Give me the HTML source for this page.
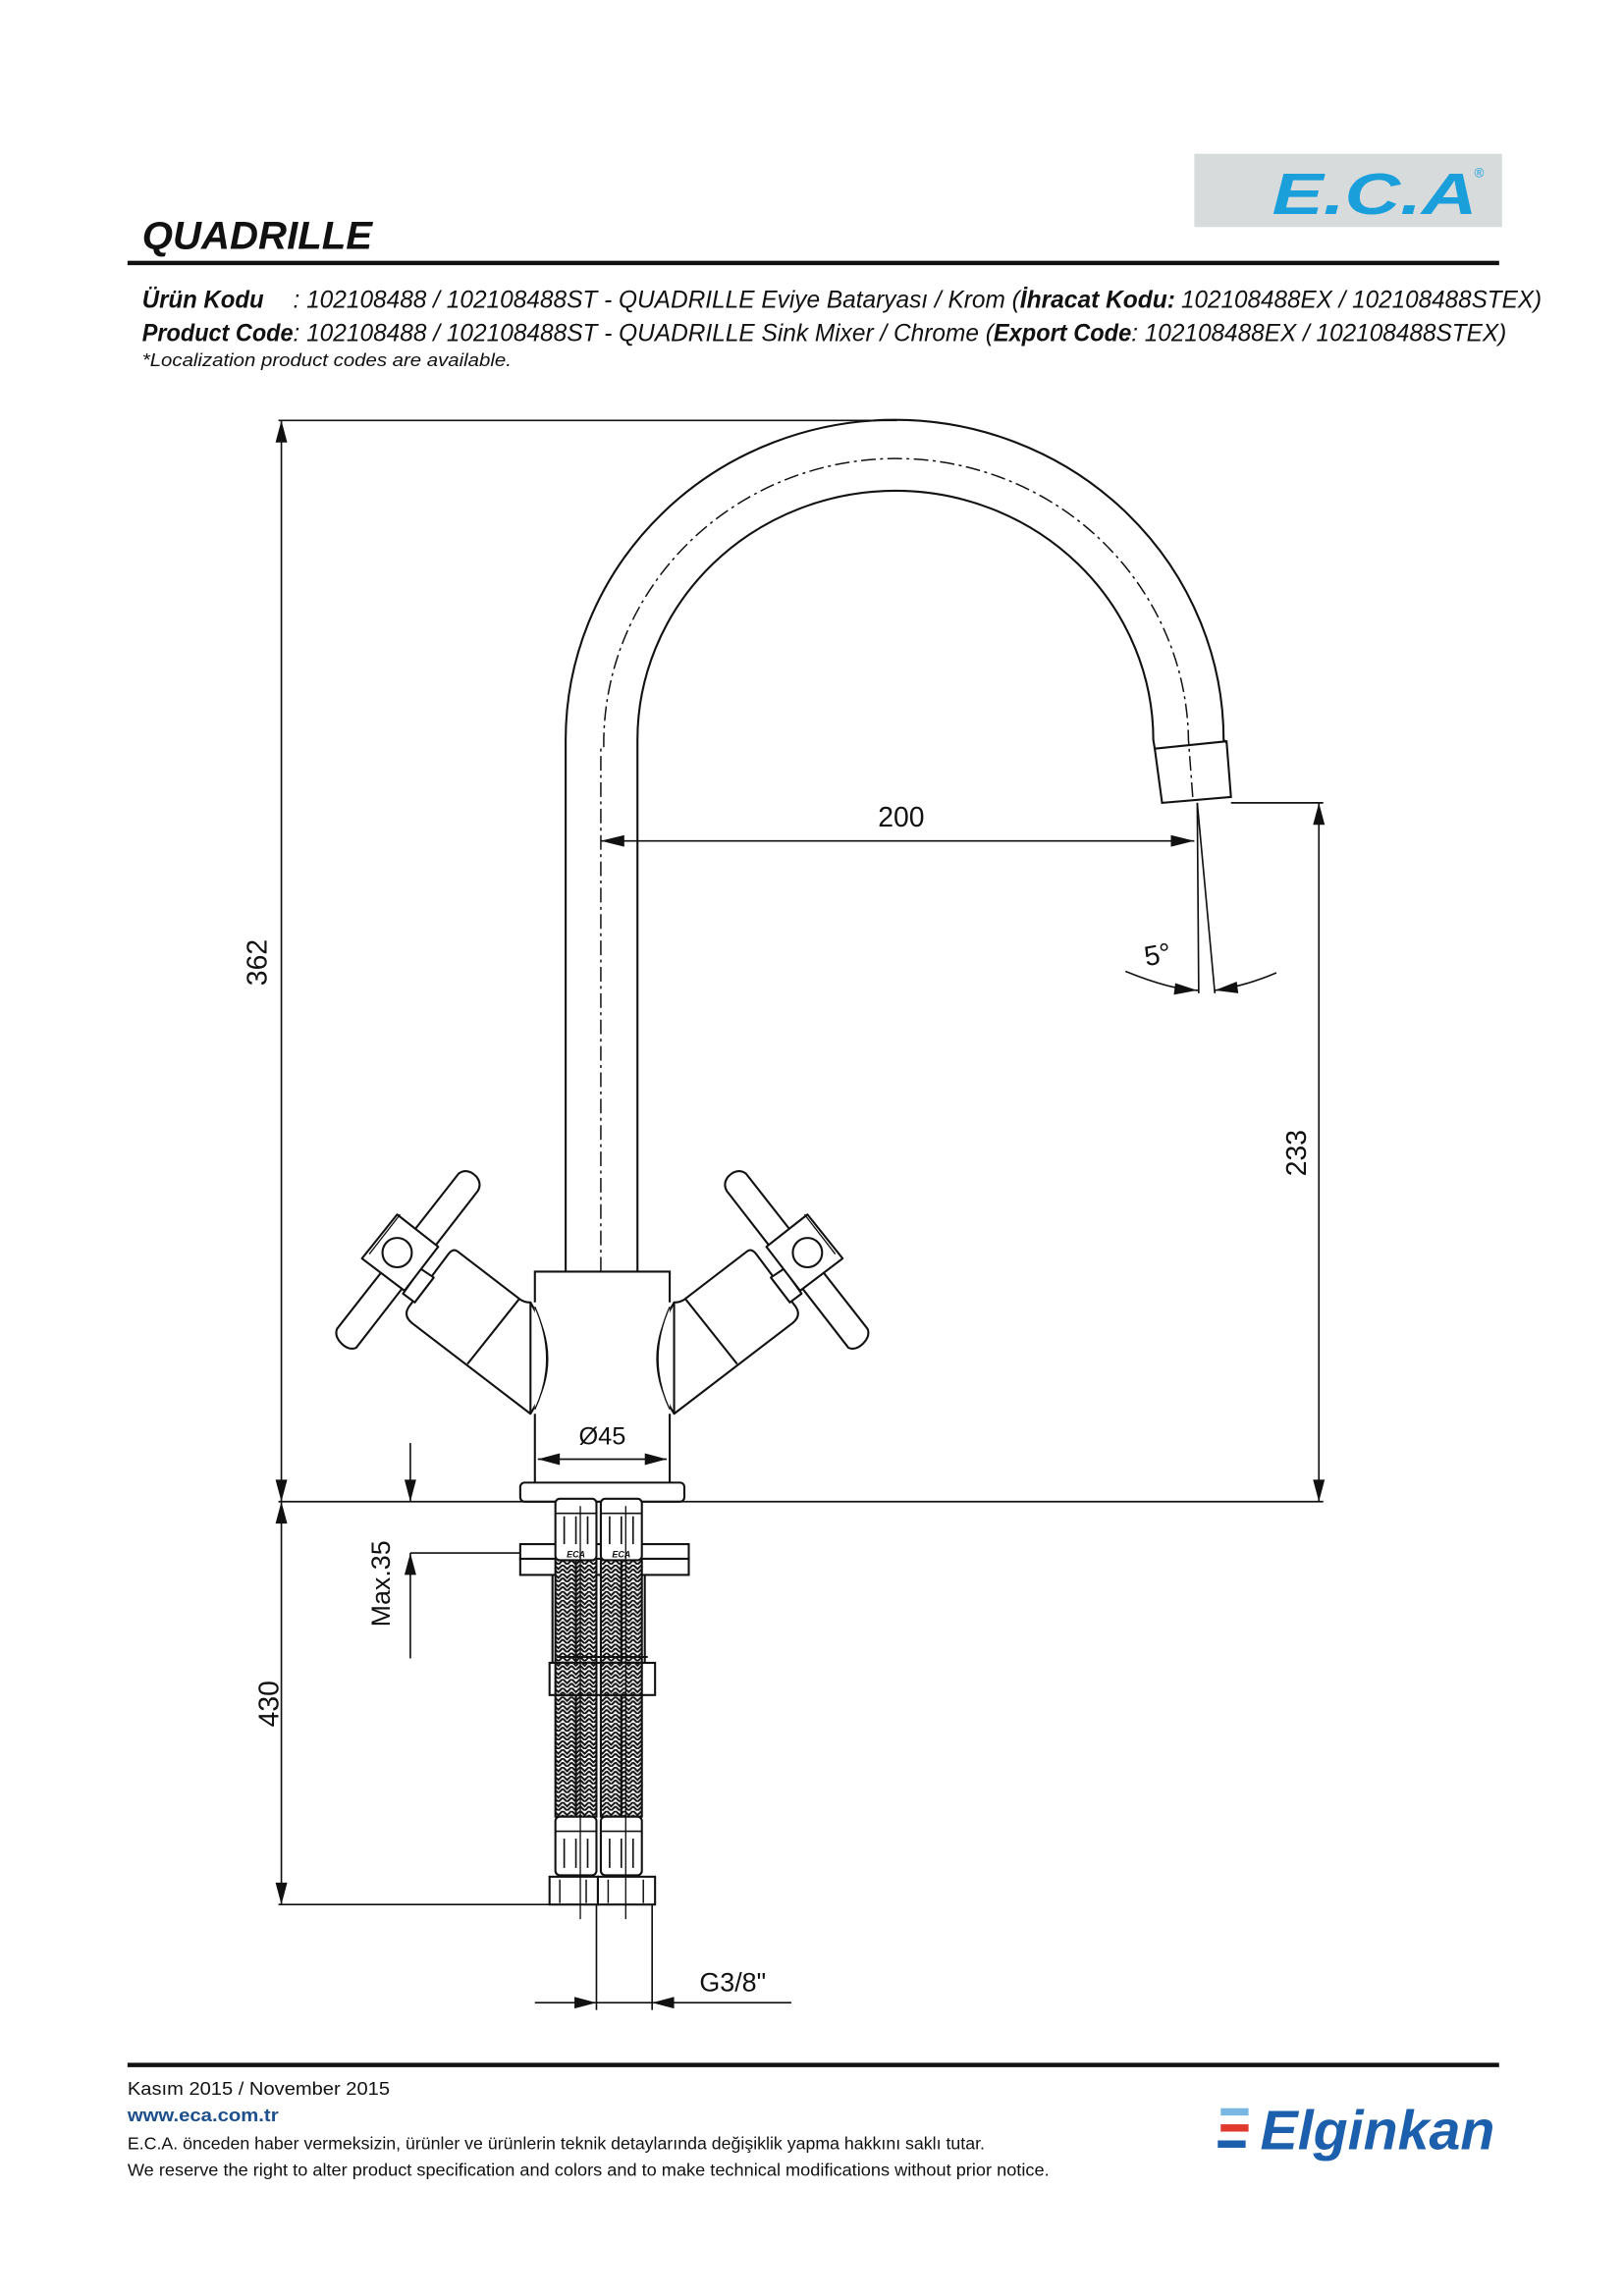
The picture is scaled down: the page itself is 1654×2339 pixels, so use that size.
<!DOCTYPE html>
<html><head><meta charset="utf-8"><style>
html,body{margin:0;padding:0;background:#fff;}
svg{display:block;}
text{font-family:"Liberation Sans",sans-serif;}
</style></head><body>
<svg width="1654" height="2339" viewBox="0 0 1108.2 1567.2" xmlns="http://www.w3.org/2000/svg">
<defs>
<pattern id="braid" width="6" height="6" patternUnits="userSpaceOnUse">
<rect width="6" height="6" fill="#fff"/>
<path d="M0,0 L3,3 L6,0 M0,3 L3,6 L6,3" stroke="#111" stroke-width="1.3" fill="none"/>
</pattern>
</defs>
<!-- Header -->
<rect x="815" y="105" width="210" height="50" fill="#d7dbdc"/>
<text x="868" y="146" font-size="40" font-weight="bold" font-style="italic" fill="#1a9fdb" textLength="140" lengthAdjust="spacingAndGlyphs">E.C.A</text>
<text x="1006" y="121" font-size="9" fill="#1a9fdb">®</text>
<text x="97" y="170" font-size="27" font-weight="bold" font-style="italic" fill="#111" textLength="157" lengthAdjust="spacingAndGlyphs">QUADRILLE</text>
<rect x="87" y="178" width="936" height="3" fill="#111"/>
<g font-size="16.5" font-style="italic" fill="#111">
<text x="97" y="210" font-weight="bold" textLength="83" lengthAdjust="spacingAndGlyphs">Ürün Kodu</text>
<text x="200" y="210" textLength="496" lengthAdjust="spacingAndGlyphs">: 102108488 / 102108488ST - QUADRILLE Eviye Bataryası / Krom (</text>
<text x="696" y="210" font-weight="bold" textLength="106" lengthAdjust="spacingAndGlyphs">İhracat Kodu:</text>
<text x="806" y="210" textLength="246" lengthAdjust="spacingAndGlyphs">102108488EX / 102108488STEX)</text>
<text x="97" y="233" font-weight="bold" textLength="103" lengthAdjust="spacingAndGlyphs">Product Code</text>
<text x="200" y="233" textLength="478" lengthAdjust="spacingAndGlyphs">: 102108488 / 102108488ST - QUADRILLE Sink Mixer / Chrome (</text>
<text x="678" y="233" font-weight="bold" textLength="94" lengthAdjust="spacingAndGlyphs">Export Code</text>
<text x="772" y="233" textLength="256" lengthAdjust="spacingAndGlyphs">: 102108488EX / 102108488STEX)</text>
<text x="97" y="250" font-size="12.5" textLength="252" lengthAdjust="spacingAndGlyphs">*Localization product codes are available.</text>
</g>

<!-- Drawing -->
<g stroke="#111" stroke-width="1.4" fill="none">
<line x1="190" y1="287" x2="612" y2="287" stroke-width="1.1"/>
<line x1="192" y1="287" x2="192" y2="1025" stroke-width="1.1"/>
<line x1="190" y1="1025" x2="903" y2="1025" stroke-width="1.2"/>
<line x1="192" y1="1025" x2="192" y2="1300" stroke-width="1.1"/>
<line x1="190" y1="1300" x2="378" y2="1300" stroke-width="1.1"/>
<path d="M386,868 L386,505 A224,218 0 0 1 835,505 L837,507"/>
<path d="M435,868 L435,505 A176,170 0 0 1 787,505 L788,511"/>
<path d="M410,868 L410,510 M412,510 A199,194 0 0 1 811,505 L814,545" stroke-width="1" stroke-dasharray="10,3,2,3"/>
<path d="M788,511 L837,506 L840,544 L793,548 Z"/>
<line x1="410" y1="574" x2="815" y2="574" stroke-width="1.1"/>
<line x1="840" y1="548" x2="903" y2="548" stroke-width="1.1"/>
<line x1="900" y1="548" x2="900" y2="1025" stroke-width="1.1"/>
<line x1="817" y1="548" x2="818" y2="678" stroke-width="1.1"/>
<line x1="817" y1="548" x2="829" y2="678" stroke-width="1.1"/>
<path d="M768,663 Q800,676 818,676" stroke-width="1.1"/>
<path d="M829,676 Q850,673 871,664" stroke-width="1.1"/>
<path d="M365,1012 L365,965 M365,889 L365,868 L457,868 L457,889 M457,965 L457,1012"/>
<rect x="355" y="1012" width="112" height="13" rx="3"/>
<line x1="367" y1="996" x2="455" y2="996" stroke-width="1.1"/>
<line x1="280" y1="985" x2="280" y2="1025" stroke-width="1.1"/>
<line x1="280" y1="1060" x2="280" y2="1132" stroke-width="1.1"/>
<line x1="280" y1="1060" x2="360" y2="1060" stroke-width="1.1"/>
<line x1="407" y1="1300" x2="407" y2="1372" stroke-width="1.1"/>
<line x1="445" y1="1300" x2="445" y2="1372" stroke-width="1.1"/>
<line x1="365" y1="1367" x2="540" y2="1367" stroke-width="1.1"/>
</g>

<g id="valve" stroke="#111" stroke-width="1.4" fill="#fff" stroke-linejoin="round">
<path d="M362,889 Q385,928 362,965" />
<path d="M365,892 Q381,928 365,962" stroke-width="0.9"/>
<path d="M312,854 L355,887 Q358,889 362,889 L362,965 L281,903 Q275,898 279,892 L306,856 Q309,852 312,854 Z"/>
<line x1="354" y1="887" x2="319" y2="931"/>
<path d="M287,866 L296,872 L283,889 L275,883 Z"/>
<path d="M313,801 Q319,797 325,803 Q329,808 326,813 L243,920 Q238,922 233,917 Q228,912 230,907 Z"/>
<path d="M271,829 L299,851 L276,881 L247,859 Z"/>
<path d="M252,856 L273,829" stroke-width="0.9"/>
<circle cx="271" cy="855" r="10"/>
</g>
<use href="#valve" transform="translate(822,0) scale(-1,1)"/>

<g stroke="#111" stroke-width="1.4" fill="#fff">
<line x1="377" y1="1075" x2="377" y2="1135"/>
<line x1="440" y1="1075" x2="440" y2="1135"/>
<rect x="355" y="1054" width="115" height="10"/>
<rect x="355" y="1064" width="115" height="11"/>
<rect x="379" y="1064" width="14" height="176" fill="url(#braid)"/>
<rect x="393" y="1064" width="14" height="176" fill="url(#braid)"/>
<rect x="410" y="1064" width="14" height="176" fill="url(#braid)"/>
<rect x="424" y="1064" width="14" height="176" fill="url(#braid)"/>
<rect x="379" y="1023" width="28" height="42" rx="3"/>
<rect x="410" y="1023" width="28" height="42" rx="3"/>
<g stroke-width="1.1">
<line x1="385" y1="1035" x2="385" y2="1054"/><line x1="393" y1="1035" x2="393" y2="1054"/><line x1="401" y1="1035" x2="401" y2="1054"/>
<line x1="416" y1="1035" x2="416" y2="1054"/><line x1="424" y1="1035" x2="424" y2="1054"/><line x1="432" y1="1035" x2="432" y2="1054"/>
<line x1="379" y1="1033" x2="407" y2="1033"/><line x1="410" y1="1033" x2="438" y2="1033"/>
</g>
<text x="393" y="1063" font-size="6" text-anchor="middle" fill="#111" stroke="none" font-weight="bold" font-style="italic">ECA</text>
<text x="424" y="1063" font-size="6" text-anchor="middle" fill="#111" stroke="none" font-weight="bold" font-style="italic">ECA</text>
<rect x="375" y="1135" width="72" height="22"/>
<line x1="380" y1="1131" x2="442" y2="1131"/>
<rect x="379" y="1135" width="28" height="22" fill="url(#braid)"/>
<rect x="410" y="1135" width="28" height="22" fill="url(#braid)"/>
<rect x="379" y="1240" width="28" height="40" rx="3"/>
<rect x="410" y="1240" width="28" height="40" rx="3"/>
<g stroke-width="1.1">
<line x1="379" y1="1250" x2="407" y2="1250"/><line x1="410" y1="1250" x2="438" y2="1250"/>
<line x1="385" y1="1255" x2="385" y2="1275"/><line x1="393" y1="1255" x2="393" y2="1275"/><line x1="401" y1="1255" x2="401" y2="1275"/>
<line x1="416" y1="1255" x2="416" y2="1275"/><line x1="424" y1="1255" x2="424" y2="1275"/><line x1="432" y1="1255" x2="432" y2="1275"/>
</g>
<rect x="375" y="1281" width="33" height="19"/>
<rect x="408" y="1281" width="39" height="19"/>
<g stroke-width="1"><line x1="382" y1="1283" x2="382" y2="1299"/><line x1="400" y1="1283" x2="400" y2="1299"/><line x1="415" y1="1283" x2="415" y2="1299"/><line x1="439" y1="1283" x2="439" y2="1299"/></g>
<line x1="396" y1="1028" x2="396" y2="1310" stroke-width="0.9"/>
<line x1="427" y1="1028" x2="427" y2="1310" stroke-width="0.9"/>
</g>

<g fill="#111">
<path d="M192,287 L188,302 L196,302 Z"/>
<path d="M192,1025 L188,1010 L196,1010 Z"/>
<path d="M192,1025 L188,1040 L196,1040 Z"/>
<path d="M192,1300 L188,1285 L196,1285 Z"/>
<path d="M410,574 L426,570 L426,578 Z"/>
<path d="M815,574 L799,570 L799,578 Z"/>
<path d="M900,548 L896,563 L904,563 Z"/>
<path d="M900,1025 L896,1010 L904,1010 Z"/>
<path d="M817,676 L802,671 L801,679 Z"/>
<path d="M829,676 L844,670 L845,678 Z"/>
<path d="M367,996 L382,992 L382,1000 Z"/>
<path d="M455,996 L440,992 L440,1000 Z"/>
<path d="M280,1025 L276,1010 L284,1010 Z"/>
<path d="M280,1060 L276,1075 L284,1075 Z"/>
<path d="M407,1367 L392,1363 L392,1371 Z"/>
<path d="M445,1367 L460,1363 L460,1371 Z"/>
</g>

<g font-size="19" fill="#111">
<text x="615" y="564" text-anchor="middle">200</text>
<text x="790" y="658" text-anchor="middle" transform="rotate(-10 790 652)">5°</text>
<text x="411" y="986" text-anchor="middle" font-size="17">Ø45</text>
<text x="500" y="1359" text-anchor="middle" font-size="18">G3/8"</text>
<text transform="translate(182,657) rotate(-90)" text-anchor="middle">362</text>
<text transform="translate(190,1163) rotate(-90)" text-anchor="middle">430</text>
<text transform="translate(891,787) rotate(-90)" text-anchor="middle">233</text>
<text transform="translate(266,1081) rotate(-90)" text-anchor="middle" font-size="18">Max.35</text>
</g>

<rect x="87" y="1408" width="936" height="3" fill="#111"/>
<g font-size="12.5" fill="#111">
<text x="87" y="1430" textLength="179" lengthAdjust="spacingAndGlyphs">Kasım 2015 / November 2015</text>
<text x="87" y="1448" font-weight="bold" fill="#1d4f8c" textLength="103" lengthAdjust="spacingAndGlyphs">www.eca.com.tr</text>
<text x="87" y="1467" font-size="11.5" textLength="585" lengthAdjust="spacingAndGlyphs">E.C.A. önceden haber vermeksizin, ürünler ve ürünlerin teknik detaylarında değişiklik yapma hakkını saklı tutar.</text>
<text x="87" y="1485" font-size="11.5" textLength="629" lengthAdjust="spacingAndGlyphs">We reserve the right to alter product specification and colors and to make technical modifications without prior notice.</text>
</g>
<rect x="833" y="1439" width="19" height="5" fill="#7ab8e3"/>
<rect x="833" y="1450" width="19" height="5" fill="#e03a2e"/>
<rect x="831" y="1461" width="19" height="5" fill="#1c5fad"/>
<text x="860" y="1467" font-size="38" font-weight="bold" font-style="italic" fill="#1c5fad" textLength="160" lengthAdjust="spacingAndGlyphs">Elginkan</text>
</svg>
</body></html>
